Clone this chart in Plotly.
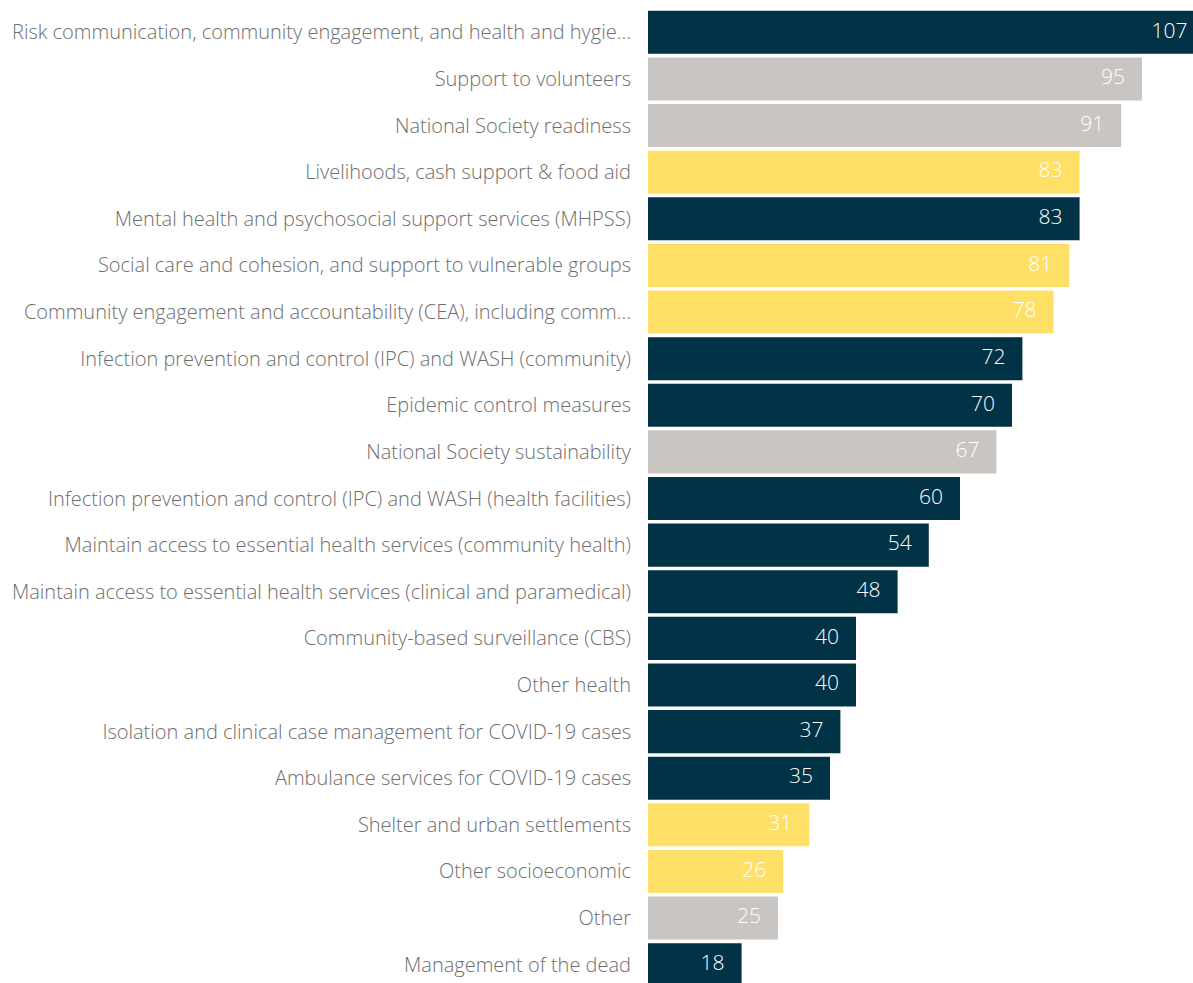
import plotly.graph_objects as go

categories = [
    "Risk communication, community engagement, and health and hygie...",
    "Support to volunteers",
    "National Society readiness",
    "Livelihoods, cash support & food aid",
    "Mental health and psychosocial support services (MHPSS)",
    "Social care and cohesion, and support to vulnerable groups",
    "Community engagement and accountability (CEA), including comm...",
    "Infection prevention and control (IPC) and WASH (community)",
    "Epidemic control measures",
    "National Society sustainability",
    "Infection prevention and control (IPC) and WASH (health facilities)",
    "Maintain access to essential health services (community health)",
    "Maintain access to essential health services (clinical and paramedical)",
    "Community-based surveillance (CBS)",
    "Other health",
    "Isolation and clinical case management for COVID-19 cases",
    "Ambulance services for COVID-19 cases",
    "Shelter and urban settlements",
    "Other socioeconomic",
    "Other",
    "Management of the dead",
]
values = [107, 95, 91, 83, 83, 81, 78, 72, 70, 67, 60, 54, 48, 40, 40, 37, 35, 31, 26, 25, 18]
groups = ["health", "ns", "ns", "socio", "health", "socio", "socio", "health", "health", "ns",
          "health", "health", "health", "health", "health", "health", "health", "socio", "socio",
          "ns", "health"]

group_colors = {"health": "#023246", "ns": "#C9C5C2", "socio": "#FFE066"}
colors = [group_colors[g] for g in groups]

W, H = 1193, 983
left, top = 648, 9
px_per_unit = 5.2
xmax = (W - left) / px_per_unit
pad_units = 17 / px_per_unit

fig = go.Figure()
fig.add_trace(go.Bar(
    x=values, y=categories, orientation="h",
    marker=dict(color=colors, line=dict(width=0)),
    hoverinfo="x+y",
))
fig.add_trace(go.Scatter(
    x=[v - pad_units for v in values], y=categories, mode="text",
    text=[str(v) for v in values], textposition="middle left",
    textfont=dict(family="Open Sans", size=21, color="#FFFFFF", weight=300),
    hoverinfo="skip", cliponaxis=True,
))

bottom_units = (H - top) / 46.62 - 0.5
fig.update_layout(
    width=W, height=H,
    margin=dict(l=left, r=0, t=top, b=0, pad=0),
    paper_bgcolor="white", plot_bgcolor="white",
    showlegend=False,
    bargap=0.077,
    xaxis=dict(range=[0, xmax], visible=False, fixedrange=True),
    yaxis=dict(
        type="category", categoryorder="array", categoryarray=categories,
        range=[bottom_units, -0.5],
        showgrid=False, zeroline=False, showline=False, ticks="",
        ticklabelstandoff=16,
        tickfont=dict(family="Open Sans", size=20, color="#6e6e6e", weight=300),
    ),
)
fig.write_html("out.html")
